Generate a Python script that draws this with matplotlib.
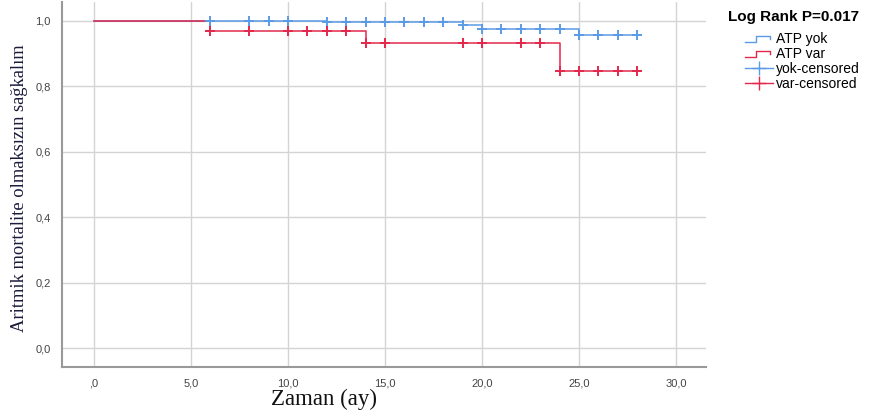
import numpy as np
import matplotlib.pyplot as plt
from matplotlib.legend_handler import HandlerBase
from matplotlib.lines import Line2D

# Kaplan-Meier step data
yok_t = [0, 12, 19, 20, 25, 28]
yok_s = [1.0, 0.996, 0.987, 0.976, 0.958, 0.958]
var_t = [0, 6, 14, 24, 28]
var_s = [1.0, 0.970, 0.932, 0.847, 0.847]

# censored times
yok_cens = [6, 8, 9, 10, 12, 13, 14, 15, 16, 17, 18, 19, 20, 21, 22, 23, 24, 25, 26, 27, 28]
var_cens = [6, 8, 10, 11, 12, 13, 14, 15, 19, 20, 22, 23, 24, 25, 26, 27, 28]

xticks = [0, 5, 10, 15, 20, 25, 30]
xtick_labels = [",0", "5,0", "10,0", "15,0", "20,0", "25,0", "30,0"]
yticks = [0.0, 0.2, 0.4, 0.6, 0.8, 1.0]
ytick_labels = ["0,0", "0,2", "0,4", "0,6", "0,8", "1,0"]

blue = "#5b9be6"
red = "#e3284c"


def surv_at(t_list, s_list, t):
    s = s_list[0]
    for ti, si in zip(t_list, s_list):
        if t >= ti:
            s = si
    return s


class StepHandler(HandlerBase):
    # small step icon like the SPSS legend
    def create_artists(self, legend, orig, xd, yd, w, h, fontsize, trans):
        xs = [xd, xd + 0.4 * w, xd + 0.4 * w, xd + 0.9 * w, xd + 0.9 * w]
        ys = [yd + 0.15 * h, yd + 0.15 * h, yd + 0.75 * h, yd + 0.75 * h, yd + 0.45 * h]
        ln = Line2D(xs, ys, color=orig.get_color(), lw=1.0, transform=trans)
        return [ln]


fig = plt.figure(figsize=(8.86, 4.19), dpi=100)
ax = fig.add_axes([62 / 886, 1 - 367 / 419, (706 - 62) / 886, 365 / 419])

ax.step(yok_t, yok_s, where="post", color=blue, lw=1.1)
ax.step(var_t, var_s, where="post", color=red, lw=1.1)
ax.plot(yok_cens, [surv_at(yok_t, yok_s, t) for t in yok_cens], "+",
        color=blue, ms=7, mew=1.4, ls="none")
ax.plot(var_cens, [surv_at(var_t, var_s, t) for t in var_cens], "+",
        color=red, ms=7, mew=1.4, ls="none")

ax.set_xlim(-1.65, 31.55)
ax.set_ylim(-0.058, 1.058)
ax.set_xticks(xticks)
ax.set_xticklabels(xtick_labels, family="Liberation Sans")
ax.set_yticks(yticks)
ax.set_yticklabels(ytick_labels, family="Liberation Sans")
ax.tick_params(length=0, labelsize=8, labelcolor="#444444", pad=8)
ax.grid(True, color="#d4d4d4", lw=1.0)
ax.set_axisbelow(True)
for side in ["top", "right"]:
    ax.spines[side].set_visible(False)
for side in ["left", "bottom"]:
    ax.spines[side].set_color("#999999")
    ax.spines[side].set_linewidth(1.5)

ax.set_xlabel("Zaman (ay)", family="Liberation Serif", fontsize=16.5,
              color="#111111")
ax.xaxis.set_label_coords(0.407, -0.06)
ax.set_ylabel("Aritmik mortalite olmaksızın sağkalım", family="Liberation Serif",
              fontsize=13.3, color="#1a1a3a")
ax.yaxis.set_label_coords(-0.053, 0.489)

fig.text(728 / 886, 1 - 17 / 419, "Log Rank P=0.017", family="Liberation Sans",
         weight="bold", fontsize=11, va="center", ha="left")

h1 = Line2D([], [], color=blue)
h2 = Line2D([], [], color=red)
h3 = Line2D([], [], color=blue, marker="+", ls="-", lw=1.0, ms=10)
h4 = Line2D([], [], color=red, marker="+", ls="-", lw=1.0, ms=10)
leg = fig.legend([h1, h2, h3, h4], ["ATP yok", "ATP var", "yok-censored", "var-censored"],
                 handler_map={h1: StepHandler(), h2: StepHandler()},
                 loc="upper left", bbox_to_anchor=(745 / 886, 1 - 32 / 419),
                 frameon=False, prop={"family": "Liberation Sans", "size": 10},
                 handlelength=2.0, handletextpad=0.2, borderpad=0,
                 borderaxespad=0, labelspacing=0.08)

fig.savefig("out.png", dpi=100)
